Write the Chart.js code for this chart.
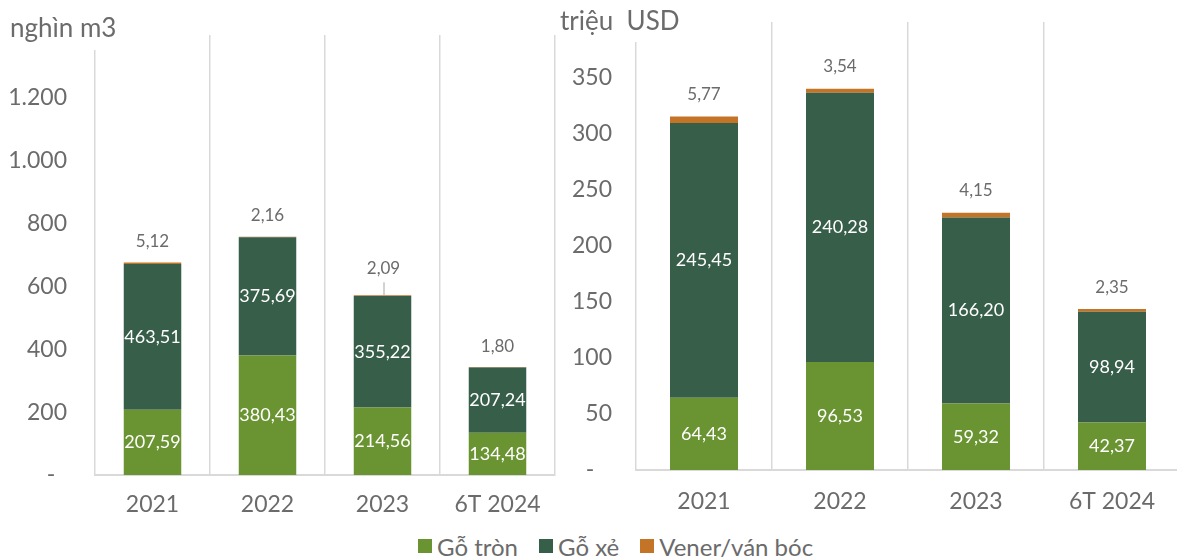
<!DOCTYPE html>
<html><head><meta charset="utf-8">
<script src="https://cdn.jsdelivr.net/npm/chart.js@4.4.1/dist/chart.umd.min.js"></script>
<style>
html,body{margin:0;padding:0;background:#fff;overflow:hidden;width:1177px;height:558px;position:relative;font-family:Lato,"Open Sans",sans-serif;}
#w1{position:absolute;left:0;top:0;width:560px;height:525px;}
#w2{position:absolute;left:555px;top:0;width:626px;height:525px;}
#legend{position:absolute;left:418px;top:531px;height:30px;display:flex;align-items:center;font-size:24px;color:#6b6b6b;white-space:nowrap;}
#legend .it{display:flex;align-items:center;margin-right:21px;}
#legend .sw{width:14px;height:14px;margin-right:5px;display:inline-block;}
</style></head>
<body>
<div id="w1"><canvas id="c1"></canvas></div>
<div id="w2"><canvas id="c2"></canvas></div>
<div id="legend"></div>
<script>
const categories = ['2021', '2022', '2023', '6T 2024'];
const seriesNames = ['Gỗ tròn', 'Gỗ xẻ', 'Vener/ván bóc'];
const volRound = [207.59, 380.43, 214.56, 134.48];
const volSawn = [463.51, 375.69, 355.22, 207.24];
const volVeneer = [5.12, 2.16, 2.09, 1.80];
const valRound = [64.43, 96.53, 59.32, 42.37];
const valSawn = [245.45, 240.28, 166.20, 98.94];
const valVeneer = [5.77, 3.54, 4.15, 2.35];
const volAxis = {min: 0, max: 1400, step: 200, unit: 'nghìn m3'};
const valAxis = {min: 0, max: 400, step: 50, unit: 'triệu  USD'};

const COLORS = ['#6A9431', '#365E48', '#C47427'];
const GRID = '#d9d9d9';
const TXT = '#6b6b6b';
const FONT = 'Lato, "Open Sans", sans-serif';

function fmtNum(v, dec) {
  const neg = v < 0; v = Math.abs(v);
  let s = v.toFixed(dec);
  let [i, d] = s.split('.');
  i = i.replace(/\B(?=(\d{3})+(?!\d))/g, '.');
  return (neg ? '-' : '') + i + (d ? ',' + d : '');
}

const labelPlugin = {
  id: 'labels',
  afterDatasetsDraw(chart, args, opts) {
    const ctx = chart.ctx;
    ctx.save();
    ctx.textAlign = 'center';
    ctx.textBaseline = 'middle';
    chart.data.datasets.forEach((ds, di) => {
      const meta = chart.getDatasetMeta(di);
      meta.data.forEach((bar, i) => {
        const txt = fmtNum(ds.data[i], 2);
        if (di < 2) {
          ctx.fillStyle = '#ffffff';
          ctx.font = '18px ' + FONT;
          ctx.fillText(txt, bar.x, (bar.y + bar.base) / 2);
        } else {
          ctx.fillStyle = TXT;
          ctx.font = '17px ' + FONT;
          if (opts.leader === i) {
            ctx.fillText(txt, bar.x + 1, bar.y - 27);
            ctx.strokeStyle = '#a6a6a6';
            ctx.lineWidth = 1;
            ctx.beginPath();
            ctx.moveTo(bar.x + 1.5, bar.y - 13);
            ctx.lineTo(bar.x + 1.5, bar.y);
            ctx.stroke();
          } else {
            ctx.fillText(txt, bar.x, bar.y - opts.off);
          }
        }
      });
    });
    // unit title box (white, covers the top of the first grid line like the original text box)
    ctx.fillStyle = '#ffffff';
    ctx.fillRect(opts.bx, 0, opts.bw, opts.bh);
    ctx.textAlign = 'left';
    ctx.textBaseline = 'alphabetic';
    ctx.fillStyle = TXT;
    ctx.font = '26px ' + FONT;
    ctx.fillText(opts.unit, opts.ux, opts.uy);
    ctx.restore();
  }
};

function makeChart(id, round, sawn, veneer, axis, L) {
  return new Chart(document.getElementById(id), {
    type: 'bar',
    data: {
      labels: categories,
      datasets: [
        {label: seriesNames[0], data: round, backgroundColor: COLORS[0]},
        {label: seriesNames[1], data: sawn, backgroundColor: COLORS[1]},
        {label: seriesNames[2], data: veneer, backgroundColor: COLORS[2]}
      ]
    },
    options: {
      responsive: true, maintainAspectRatio: false, animation: false,
      devicePixelRatio: 1,
      layout: {padding: {top: L.top, right: L.right, left: 0, bottom: 0}},
      datasets: {bar: {categoryPercentage: 1, barPercentage: 0.5}},
      plugins: {
        legend: {display: false}, tooltip: {enabled: false},
        labels: {off: L.off, leader: L.leader, unit: axis.unit, ux: L.ux, uy: L.uy, bx: L.bx, bw: L.bw, bh: L.bh}
      },
      scales: {
        x: {
          stacked: true,
          grid: {display: true, color: GRID, lineWidth: 1.5, drawTicks: false, offset: true},
          border: {display: true, color: GRID, width: 2},
          ticks: {color: TXT, font: {family: FONT, size: 23}, padding: L.xpad, maxRotation: 0},
          afterFit(s) { s.height = L.xh; s.paddingLeft = 0; s.paddingRight = 0; }
        },
        y: {
          stacked: true, min: axis.min, max: axis.max,
          grid: {display: false, drawTicks: false},
          border: {display: false},
          ticks: {
            stepSize: axis.step, color: TXT, font: {family: FONT, size: 23}, padding: L.ypad,
            callback(v) { if (v === 0) return L.zero; if (v === axis.max) return ''; return fmtNum(v, 0); }
          },
          afterFit(s) { s.width = L.yw; s.paddingTop = 0; s.paddingBottom = 0; }
        }
      }
    },
    plugins: [labelPlugin]
  });
}

makeChart('c1', volRound, volSawn, volVeneer, volAxis,
  {top: 35, right: 5, xh: 50, xpad: 16, yw: 95, ypad: 28, off: 21, leader: 2, ux: 10, uy: 37, zero: '-  ',
   bx: 0, bw: 122, bh: 50});
makeChart('c2', valRound, valSawn, valVeneer, valAxis,
  {top: 22, right: 1, xh: 55, xpad: 18, yw: 81, ypad: 24, off: 22, leader: -1, ux: 5, uy: 30, zero: '-   ',
   bx: 3, bw: 125, bh: 42});

const lg = document.getElementById('legend');
seriesNames.forEach((n, i) => {
  const it = document.createElement('span'); it.className = 'it';
  const sw = document.createElement('span'); sw.className = 'sw'; sw.style.background = COLORS[i];
  const t = document.createElement('span'); t.textContent = n;
  it.appendChild(sw); it.appendChild(t); lg.appendChild(it);
});
</script>
</body></html>
